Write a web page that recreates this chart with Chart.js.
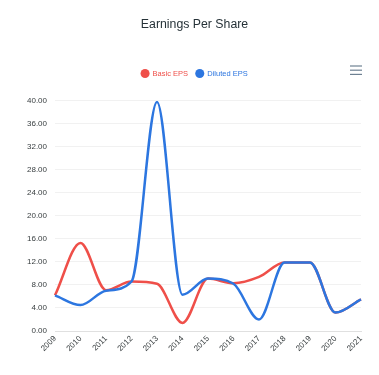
<!DOCTYPE html>
<html>
<head>
<meta charset="utf-8">
<script src="https://cdn.jsdelivr.net/npm/chart.js@4"></script>
<style>
  html, body { margin: 0; padding: 0; background: #fff; }
  #wrap { position: relative; width: 379px; height: 375px; }
</style>
</head>
<body>
<div id="wrap"><canvas id="eps" width="379" height="375"></canvas></div>
<script>
const years = ['2009', '2010', '2011', '2012', '2013', '2014', '2015', '2016', '2017', '2018', '2019', '2020', '2021'];
const basicEps = [6.2, 15.3, 7.1, 8.6, 8.2, 1.4, 9.1, 8.3, 9.4, 11.9, 11.9, 3.2, 5.5];
const dilutedEps = [6.2, 4.5, 7.0, 8.6, 39.8, 6.3, 9.1, 8.2, 2.0, 11.9, 11.9, 3.2, 5.5];
const yTicks = [0, 4, 8, 12, 16, 20, 24, 28, 32, 36, 40];

const RED = '#ef4f49';
const BLUE = '#2c76e0';
const FONT = 'Helvetica, "Liberation Sans", Arial, sans-serif';

// hamburger menu icon in the top right
const menuIcon = {
  id: 'menuIcon',
  afterDraw(chart) {
    const ctx = chart.ctx;
    ctx.save();
    ctx.strokeStyle = '#6e8192';
    ctx.lineWidth = 1.2;
    [66, 70.2, 74.4].forEach(y => {
      ctx.beginPath();
      ctx.moveTo(350, y);
      ctx.lineTo(362, y);
      ctx.stroke();
    });
    ctx.restore();
  }
};

// extra room under the legend
const legendGap = {
  id: 'legendGap',
  beforeInit(chart) {
    const fit = chart.legend.fit;
    chart.legend.fit = function () {
      fit.bind(chart.legend)();
      this.height += 13.5;
    };
  }
};

new Chart(document.getElementById('eps'), {
  type: 'line',
  data: {
    labels: years,
    datasets: [{
      label: 'Basic EPS',
      data: basicEps,
      borderColor: RED,
      backgroundColor: RED,
      borderWidth: 2.5,
      pointRadius: 0,
      order: 1,
      cubicInterpolationMode: 'monotone'
    }, {
      label: 'Diluted EPS',
      data: dilutedEps,
      borderColor: BLUE,
      backgroundColor: BLUE,
      borderWidth: 2.5,
      pointRadius: 0,
      order: 0,
      cubicInterpolationMode: 'monotone'
    }]
  },
  options: {
    responsive: false,
    animation: false,
    layout: { padding: { left: 10, right: 0, top: 0, bottom: 0 } },
    plugins: {
      title: {
        display: true,
        text: 'Earnings Per Share',
        color: '#263238',
        font: { family: FONT, size: 12.3, weight: 'normal' },
        padding: { top: 17.5, bottom: 29.5 }
      },
      legend: {
        position: 'top',
        labels: {
          usePointStyle: true,
          pointStyle: 'circle',
          boxHeight: 6.4,
          padding: 8,
          font: { family: FONT, size: 7.5 },
          generateLabels(chart) {
            const items = Chart.defaults.plugins.legend.labels.generateLabels(chart);
            items.forEach(it => {
              const ds = chart.data.datasets[it.datasetIndex];
              it.fontColor = ds.borderColor;
              it.fillStyle = ds.borderColor;
              it.strokeStyle = ds.borderColor;
              it.lineWidth = 0;
            });
            return items.sort((a, b) => a.datasetIndex - b.datasetIndex);
          }
        }
      },
      tooltip: { enabled: false }
    },
    scales: {
      x: {
        offset: false,
        grid: { display: false, drawTicks: false },
        border: { display: true, color: '#e0e0e0', width: 1 },
        ticks: {
          autoSkip: false,
          minRotation: 45,
          maxRotation: 45,
          padding: 3,
          color: '#373d3f',
          font: { family: FONT, size: 8 }
        },
        afterFit(scale) { scale.height = 44; }
      },
      y: {
        min: 0,
        max: 40,
        afterBuildTicks(scale) { scale.ticks = yTicks.map(v => ({ value: v })); },
        grid: { color: '#f1f1f1', drawTicks: false },
        border: { display: false },
        ticks: {
          padding: 8,
          color: '#373d3f',
          font: { family: FONT, size: 8 },
          callback: v => Number(v).toFixed(2)
        },
        afterFit(scale) { scale.width = 45; }
      },
      // empty right-hand strip so the plot ends where the reference does
      yRight: {
        position: 'right',
        display: true,
        grid: { display: false, drawTicks: false },
        border: { display: false },
        ticks: { display: false },
        afterFit(scale) { scale.width = 18; }
      }
    }
  },
  plugins: [menuIcon, legendGap]
});
</script>
</body>
</html>
